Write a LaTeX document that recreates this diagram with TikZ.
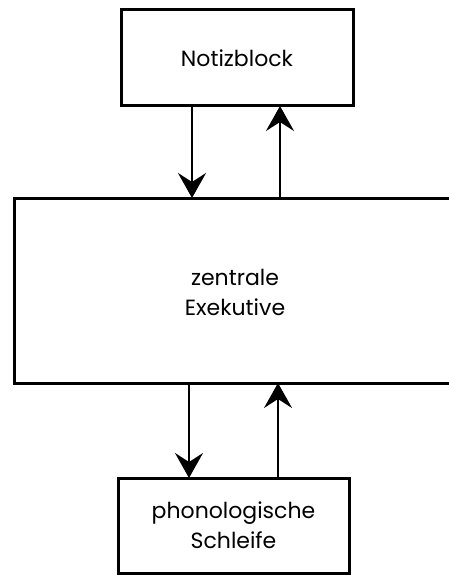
\documentclass[tikz,border=0pt]{standalone}
\usepackage{fontspec}
\setmainfont{Poppins}
\usetikzlibrary{arrows.meta}
\begin{document}
\begin{tikzpicture}[x=1pt,y=-1pt,
  label/.style={align=center, font=\fontsize{22}{30}\selectfont},
  box/.style={draw, line width=3pt, outer sep=0pt, inner sep=0pt, label},
  flow/.style={line width=2pt,
    -{Stealth[length=25pt, width=28pt, inset=9pt]}}]
\useasboundingbox (0,0) rectangle (449,575);
% the three stores
\node[box, minimum width=232pt, minimum height=96pt] (notiz) at (237,58) {Notizblock};
\node[box, minimum width=442pt, minimum height=185pt] (exec) at (235,290.5) {};
\node[label] (exectext) at (235,292) {zentrale\\Exekutive};
\node[box, minimum width=231pt, minimum height=95pt] (schleife) at (233.5,525.5) {phonologische\\Schleife};
% attachment points of the arrows on the central box
\coordinate (tdown) at ([xshift=-43pt]exec.north);
\coordinate (tup)   at ([xshift=45pt]exec.north);
\coordinate (bdown) at ([xshift=-46pt]exec.south);
\coordinate (bup)   at ([xshift=43pt]exec.south);
% arrows
\draw[flow] (notiz.south -| tdown) -- (tdown);
\draw[flow] (tup) -- (notiz.south -| tup);
\draw[flow] (bdown) -- (schleife.north -| bdown);
\draw[flow] (schleife.north -| bup) -- (bup);
\end{tikzpicture}
\end{document}
